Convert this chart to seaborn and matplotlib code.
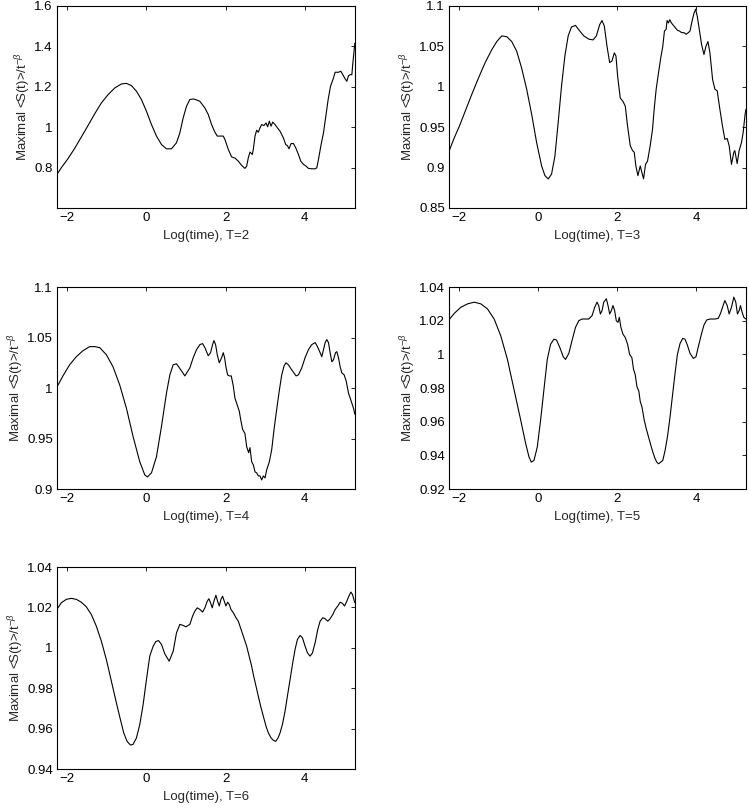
import numpy as np
import pandas as pd
import matplotlib
matplotlib.use('Agg')
import matplotlib.pyplot as plt
import seaborn as sns

# x = Log(time), y = Maximal <S(t)>/t^-beta
t2_x = [-2.262, -2.152, -1.983, -1.814, -1.646, -1.477, -1.308, -1.139, -0.970, -0.802,
        -0.633, -0.506, -0.380, -0.253, -0.127, 0.000, 0.127, 0.253, 0.380, 0.506,
        0.633, 0.759, 0.844, 0.928, 1.013, 1.097, 1.181,
        1.266, 1.350, 1.477, 1.561, 1.646, 1.730, 1.789, 1.857, 1.941, 1.983,
        2.068, 2.152, 2.236, 2.321, 2.405, 2.489, 2.532, 2.574, 2.616, 2.675,
        2.700, 2.743, 2.785, 2.827, 2.869, 2.911, 2.970, 3.021, 3.063, 3.105,
        3.148, 3.190, 3.249, 3.308, 3.376, 3.460, 3.519, 3.561, 3.603, 3.654,
        3.713, 3.772, 3.840, 3.899, 3.966, 4.034, 4.093, 4.177, 4.262, 4.304,
        4.346, 4.405, 4.473, 4.532, 4.591, 4.650, 4.726, 4.768, 4.852, 4.911,
        4.962, 5.021, 5.063, 5.105, 5.148, 5.190, 5.215, 5.249, 5.266]
t2_y = [0.766, 0.799, 0.844, 0.895, 0.951, 1.008, 1.066, 1.120, 1.161, 1.194,
        1.214, 1.217, 1.206, 1.178, 1.137, 1.079, 1.013, 0.956, 0.914, 0.893,
        0.893, 0.923, 0.972, 1.046, 1.104, 1.137, 1.140,
        1.135, 1.128, 1.095, 1.063, 1.013, 0.975, 0.956, 0.956, 0.956, 0.939,
        0.890, 0.853, 0.847, 0.832, 0.811, 0.796, 0.807, 0.849, 0.877, 0.865,
        0.890, 0.956, 0.985, 0.975, 0.997, 1.013, 1.008, 1.021, 1.002, 1.030,
        1.005, 1.025, 1.013, 0.997, 0.980, 0.947, 0.914, 0.909, 0.893, 0.919,
        0.919, 0.898, 0.865, 0.832, 0.816, 0.807, 0.796, 0.794, 0.794, 0.799,
        0.840, 0.906, 0.972, 1.054, 1.137, 1.202, 1.244, 1.272, 1.272, 1.277,
        1.260, 1.239, 1.227, 1.255, 1.260, 1.260, 1.318, 1.384, 1.416]

t3_x = [-2.269, -2.143, -2.000, -1.848, -1.680, -1.512, -1.343, -1.175, -1.049, -0.923,
        -0.796, -0.670, -0.544, -0.418, -0.291, -0.165, -0.039, 0.088, 0.172, 0.256,
        0.340, 0.424, 0.508, 0.593, 0.677, 0.761, 0.845, 0.946, 1.056,
        1.157, 1.283, 1.392, 1.476, 1.561, 1.620, 1.678, 1.746, 1.813, 1.872,
        1.931, 1.973, 2.015, 2.082, 2.150, 2.209, 2.268, 2.335, 2.394, 2.436,
        2.478, 2.529, 2.588, 2.630, 2.672, 2.722, 2.773, 2.840, 2.899, 2.941,
        2.992, 3.051, 3.109, 3.160, 3.202, 3.244, 3.269, 3.303, 3.337, 3.379,
        3.429, 3.480, 3.530, 3.581, 3.640, 3.699, 3.749, 3.808, 3.850, 3.901,
        3.951, 3.993, 4.035, 4.086, 4.145, 4.204, 4.254, 4.305, 4.355, 4.423,
        4.481, 4.540, 4.608, 4.675, 4.734, 4.793, 4.843, 4.902, 4.961, 4.987,
        5.046, 5.096, 5.155, 5.197, 5.247, 5.266]
t3_y = [0.919, 0.935, 0.951, 0.970, 0.991, 1.011, 1.030, 1.046, 1.056, 1.063,
        1.062, 1.056, 1.044, 1.023, 0.997, 0.966, 0.931, 0.902, 0.890, 0.886,
        0.892, 0.914, 0.956, 1.001, 1.038, 1.063, 1.074, 1.076, 1.069,
        1.063, 1.059, 1.058, 1.063, 1.077, 1.082, 1.075, 1.050, 1.030, 1.032,
        1.042, 1.038, 1.013, 0.986, 0.982, 0.976, 0.951, 0.927, 0.921, 0.919,
        0.902, 0.890, 0.902, 0.894, 0.886, 0.904, 0.908, 0.927, 0.947, 0.972,
        0.997, 1.017, 1.036, 1.050, 1.069, 1.071, 1.082, 1.079, 1.083, 1.079,
        1.076, 1.073, 1.070, 1.069, 1.067, 1.067, 1.065, 1.067, 1.069, 1.081,
        1.091, 1.096, 1.087, 1.071, 1.052, 1.040, 1.050, 1.056, 1.042, 1.009,
        0.997, 0.995, 0.972, 0.951, 0.935, 0.936, 0.927, 0.904, 0.919, 0.921,
        0.905, 0.921, 0.931, 0.943, 0.966, 0.972]

t4_x = [-2.262, -2.110, -1.941, -1.772, -1.603, -1.435, -1.308, -1.181, -1.013, -0.844,
        -0.675, -0.506, -0.338, -0.169, -0.042, 0.025, 0.127, 0.253, 0.380, 0.506,
        0.591, 0.675, 0.759, 0.886, 0.970,
        1.097, 1.181, 1.266, 1.350, 1.418, 1.477, 1.561, 1.620, 1.671, 1.705,
        1.747, 1.789, 1.840, 1.899, 1.941, 1.975, 2.008, 2.051, 2.093, 2.143,
        2.194, 2.236, 2.295, 2.346, 2.380, 2.430, 2.489, 2.532, 2.582, 2.616,
        2.658, 2.700, 2.743, 2.785, 2.827, 2.869, 2.911, 2.954, 2.996, 3.038,
        3.105, 3.165, 3.224, 3.291, 3.359, 3.418, 3.477, 3.527, 3.586, 3.671,
        3.781, 3.840, 3.924, 4.008, 4.093, 4.177, 4.262, 4.321, 4.388, 4.430,
        4.473, 4.515, 4.557, 4.599, 4.641, 4.684, 4.726, 4.777, 4.810, 4.852,
        4.895, 4.937, 4.996, 5.046, 5.105, 5.173, 5.232, 5.266]
t4_y = [1.001, 1.012, 1.023, 1.031, 1.037, 1.041, 1.041, 1.040, 1.033, 1.021,
        1.003, 0.980, 0.952, 0.927, 0.914, 0.912, 0.916, 0.932, 0.962, 0.995,
        1.013, 1.023, 1.024, 1.017, 1.012,
        1.020, 1.030, 1.038, 1.043, 1.044, 1.040, 1.032, 1.035, 1.043, 1.047,
        1.043, 1.033, 1.025, 1.030, 1.035, 1.030, 1.021, 1.013, 1.012, 1.012,
        1.002, 0.990, 0.983, 0.977, 0.969, 0.959, 0.955, 0.942, 0.936, 0.941,
        0.927, 0.924, 0.917, 0.916, 0.913, 0.913, 0.909, 0.913, 0.911, 0.919,
        0.927, 0.939, 0.959, 0.979, 0.998, 1.013, 1.022, 1.025, 1.023, 1.018,
        1.012, 1.013, 1.020, 1.030, 1.038, 1.043, 1.045, 1.041, 1.035, 1.031,
        1.038, 1.045, 1.048, 1.045, 1.035, 1.026, 1.028, 1.035, 1.036, 1.030,
        1.021, 1.015, 1.013, 1.007, 0.995, 0.987, 0.980, 0.974]

t5_x = [-2.278, -2.126, -1.958, -1.790, -1.621, -1.453, -1.285, -1.116, -0.948, -0.779,
        -0.611, -0.443, -0.316, -0.232, -0.173, -0.106, -0.022, 0.062, 0.146, 0.231,
        0.315, 0.399, 0.466, 0.551, 0.635, 0.694, 0.778, 0.862, 0.946, 1.030,
        1.114, 1.241,
        1.283, 1.367, 1.434, 1.493, 1.535, 1.577, 1.620, 1.662, 1.729, 1.771,
        1.813, 1.855, 1.897, 1.939, 1.981, 2.024, 2.057, 2.099, 2.150, 2.209,
        2.268, 2.318, 2.377, 2.419, 2.461, 2.503, 2.554, 2.588, 2.630, 2.689,
        2.739, 2.798, 2.857, 2.907, 2.966, 3.008, 3.051, 3.109, 3.160, 3.219,
        3.278, 3.345, 3.413, 3.472, 3.531, 3.598, 3.665, 3.724, 3.783, 3.851,
        3.935, 4.002, 4.061, 4.145, 4.204, 4.271, 4.355, 4.481, 4.566, 4.625,
        4.675, 4.734, 4.793, 4.843, 4.902, 4.961, 5.011, 5.053, 5.096, 5.130,
        5.172, 5.214, 5.266]
t5_y = [1.020, 1.0244, 1.028, 1.030, 1.031, 1.030, 1.027, 1.021, 1.011, 0.997,
        0.979, 0.961, 0.947, 0.939, 0.936, 0.937, 0.945, 0.961, 0.979, 0.997,
        1.006, 1.009, 1.0085, 1.004, 0.9986, 0.997, 1.0006, 1.0085, 1.016, 1.020,
        1.021, 1.021,
        1.021, 1.023, 1.028, 1.031, 1.029, 1.024, 1.026, 1.031, 1.033, 1.029,
        1.024, 1.026, 1.029, 1.026, 1.020, 1.019, 1.022, 1.016, 1.012, 1.010,
        1.006, 1.000, 0.998, 0.991, 0.988, 0.981, 0.978, 0.972, 0.969, 0.961,
        0.956, 0.951, 0.946, 0.942, 0.938, 0.936, 0.935, 0.936, 0.937, 0.943,
        0.951, 0.963, 0.977, 0.989, 1.000, 1.0065, 1.0095, 1.009, 1.0055, 1.0006,
        0.9976, 0.9986, 1.0046, 1.0125, 1.0174, 1.0204, 1.021, 1.021, 1.0214, 1.0244,
        1.028, 1.032, 1.029, 1.024, 1.028, 1.034, 1.031, 1.024, 1.026, 1.029,
        1.025, 1.022, 1.021]

t6_x = [-2.262, -2.152, -2.025, -1.899, -1.772, -1.646, -1.519, -1.392, -1.266, -1.139,
        -1.013, -0.886, -0.759, -0.658, -0.574, -0.489, -0.405, -0.338, -0.253, -0.169,
        -0.084, 0.000, 0.084, 0.169, 0.236, 0.304, 0.380, 0.464, 0.574, 0.675,
        0.759, 0.844, 0.928, 0.996,
        1.097, 1.165, 1.224, 1.283, 1.350, 1.418, 1.477, 1.536, 1.578, 1.620,
        1.662, 1.705, 1.755, 1.797, 1.840, 1.882, 1.924, 1.966, 2.008, 2.051,
        2.093, 2.135, 2.194, 2.262, 2.321, 2.363, 2.405, 2.447, 2.489, 2.532,
        2.574, 2.616, 2.658, 2.700, 2.759, 2.827, 2.886, 2.954, 3.021, 3.080,
        3.148, 3.207, 3.266, 3.325, 3.376, 3.435, 3.502, 3.561, 3.629, 3.696,
        3.755, 3.814, 3.882, 3.941, 4.008, 4.068, 4.135, 4.194, 4.262, 4.329,
        4.388, 4.456, 4.515, 4.582, 4.641, 4.709, 4.768, 4.835, 4.895, 4.954,
        5.004, 5.063, 5.114, 5.165, 5.207, 5.240, 5.266]
t6_y = [1.019, 1.0223, 1.024, 1.0245, 1.024, 1.0226, 1.0203, 1.0165, 1.0107, 1.0033,
        0.9942, 0.9835, 0.9727, 0.9645, 0.9579, 0.9537, 0.9519, 0.9522, 0.9554, 0.962,
        0.9719, 0.9843, 0.9959, 1.0008, 1.0031, 1.0036, 1.0017, 0.997, 0.9934, 0.9983,
        1.0074, 1.0116, 1.0111, 1.0104,
        1.0116, 1.0157, 1.0182, 1.0198, 1.019, 1.0177, 1.0198, 1.0231, 1.0243, 1.0223,
        1.0198, 1.0231, 1.026, 1.0231, 1.0207, 1.024, 1.0256, 1.0231, 1.0207, 1.0226,
        1.0215, 1.019, 1.0174, 1.0149, 1.0132, 1.0107, 1.0083, 1.0058, 1.0033, 1.0008,
        0.9975, 0.9942, 0.9909, 0.9868, 0.9818, 0.976, 0.9711, 0.9661, 0.9612, 0.9579,
        0.9554, 0.9542, 0.9537, 0.9554, 0.9579, 0.962, 0.9686, 0.976, 0.9843, 0.9926,
        0.9992, 1.0041, 1.0061, 1.005, 1.0008, 0.9975, 0.9959, 0.9975, 1.0025, 1.0091,
        1.0132, 1.0149, 1.0144, 1.0132, 1.0144, 1.0165, 1.019, 1.0207, 1.0226, 1.022,
        1.0207, 1.0231, 1.0256, 1.0276, 1.0264, 1.024, 1.0223]

temps = [2, 3, 4, 5, 6]
series_x = [t2_x, t3_x, t4_x, t5_x, t6_x]
series_y = [t2_y, t3_y, t4_y, t5_y, t6_y]

x_ticks = [-2, 0, 2, 4]
x_labels = ['\u22122', '0', '2', '4']
y_ticks = [
    [0.8, 1.0, 1.2, 1.4, 1.6],
    [0.85, 0.9, 0.95, 1.0, 1.05, 1.1],
    [0.9, 0.95, 1.0, 1.05, 1.1],
    [0.92, 0.94, 0.96, 0.98, 1.0, 1.02, 1.04],
    [0.94, 0.96, 0.98, 1.0, 1.02, 1.04],
]
y_labels = [
    ['0.8', '1', '1.2', '1.4', '1.6'],
    ['0.85', '0.9', '0.95', '1', '1.05', '1.1'],
    ['0.9', '0.95', '1', '1.05', '1.1'],
    ['0.92', '0.94', '0.96', '0.98', '1', '1.02', '1.04'],
    ['0.94', '0.96', '0.98', '1', '1.02', '1.04'],
]
y_limits = [(0.6, 1.6), (0.85, 1.1), (0.9, 1.1), (0.92, 1.04), (0.94, 1.04)]

sns.set_theme(style='white')
plt.rcParams['font.family'] = ['Liberation Sans', 'DejaVu Sans']
plt.rcParams['mathtext.fontset'] = 'custom'
plt.rcParams['mathtext.rm'] = 'Liberation Sans'
plt.rcParams['mathtext.it'] = 'Liberation Sans:italic'
plt.rcParams['mathtext.bf'] = 'Liberation Sans:bold'

fig = plt.figure(figsize=(7.49, 8.09), dpi=100)
fig.patch.set_facecolor('white')

# axes boxes (figure fractions), 3 rows x 2 columns, last cell empty
lefts = [0.0761, 0.5995]
bottoms = [0.7429, 0.3955, 0.0494]
w_left, w_right, h = 0.3979, 0.3965, 0.2497

for i, T in enumerate(temps):
    row, col = divmod(i, 2)
    ax = fig.add_axes([lefts[col], bottoms[row], w_left if col == 0 else w_right, h])
    df = pd.DataFrame({'x': series_x[i], 'y': series_y[i]})
    sns.lineplot(data=df, x='x', y='y', ax=ax, color='black', linewidth=0.8,
                 estimator=None, sort=False)
    ax.set_xlim(-2.26, 5.27)
    ax.set_ylim(*y_limits[i])
    ax.set_xticks(x_ticks)
    ax.set_xticklabels(x_labels)
    ax.set_yticks(y_ticks[i])
    ax.set_yticklabels(y_labels[i])
    ax.tick_params(direction='in', top=True, right=True, length=3, width=0.6,
                   labelsize=9.5, colors='black', pad=3)
    for s in ax.spines.values():
        s.set_linewidth(0.8)
        s.set_color('black')
    ax.set_xlabel(f'Log(time), T={T}', fontsize=9.5, labelpad=4)
    ax.set_ylabel(r'Maximal <S(t)>/t$^{-\beta}$', fontsize=9.5, labelpad=1)

fig.savefig('out.png', dpi=100, facecolor='white')
